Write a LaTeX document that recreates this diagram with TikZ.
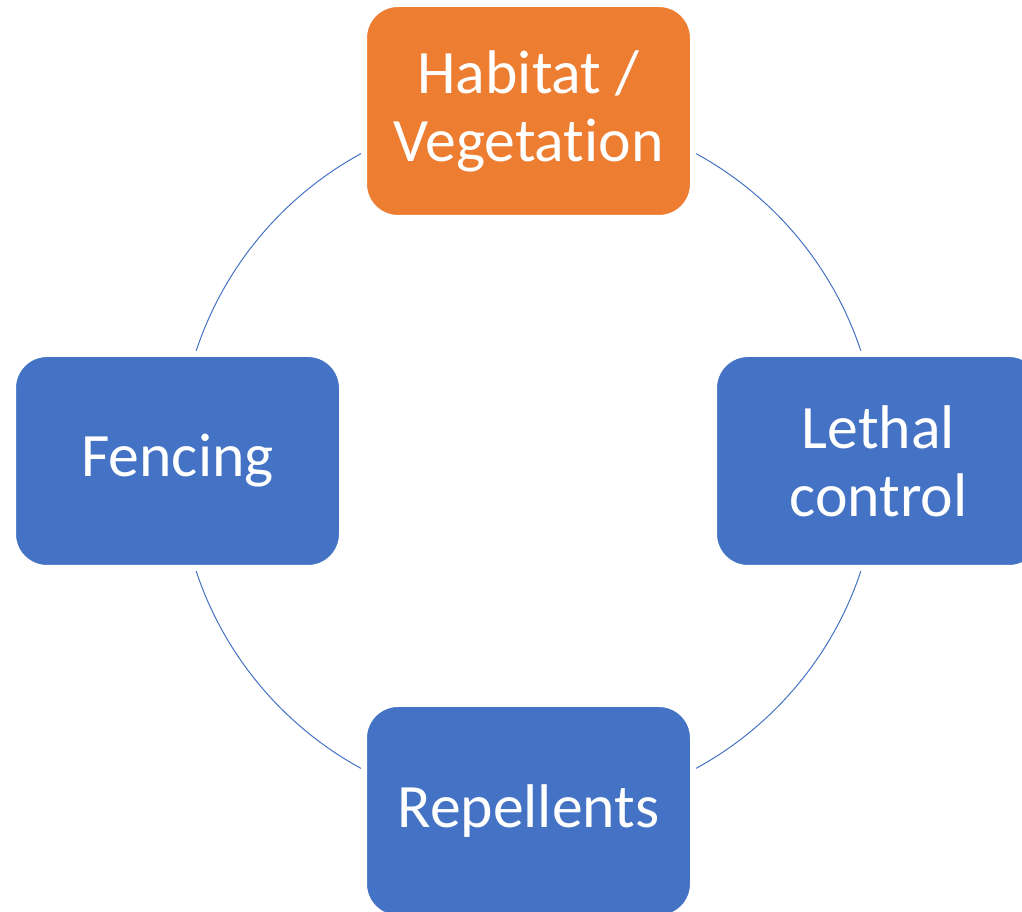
\documentclass[tikz,border=0pt]{standalone}
\usepackage{fontspec}
\setmainfont{Carlito}[Ligatures=NoCommon]
\definecolor{sablue}{HTML}{4472C4}
\definecolor{saorange}{HTML}{ED7D31}
\begin{document}
\begin{tikzpicture}[x=1pt,y=1pt,
  cyclebox/.style={rectangle, rounded corners=34pt, minimum width=329pt, minimum height=214pt,
    draw=white, line width=6pt, inner sep=0pt, text=white, align=center,
    font=\fontsize{61.7pt}{68pt}\selectfont},
  ring/.style={draw=sablue, line width=1pt}]
\useasboundingbox (0,0) rectangle (1022,912);
\clip (0,0) rectangle (1022,912);
\coordinate (c) at (528.5,451);
\draw[ring] (c) circle[radius=350];
\node[cyclebox, fill=saorange] (hab) at (528.5,801) {Habitat /\\Vegetation};
\node[cyclebox, fill=sablue] (let) at (878.5,451) {Lethal\\control};
\node[cyclebox, fill=sablue] (rep) at (528.5,101) {Repellents};
\node[cyclebox, fill=sablue] (fen) at (177.5,451) {Fencing};
\end{tikzpicture}
\end{document}
